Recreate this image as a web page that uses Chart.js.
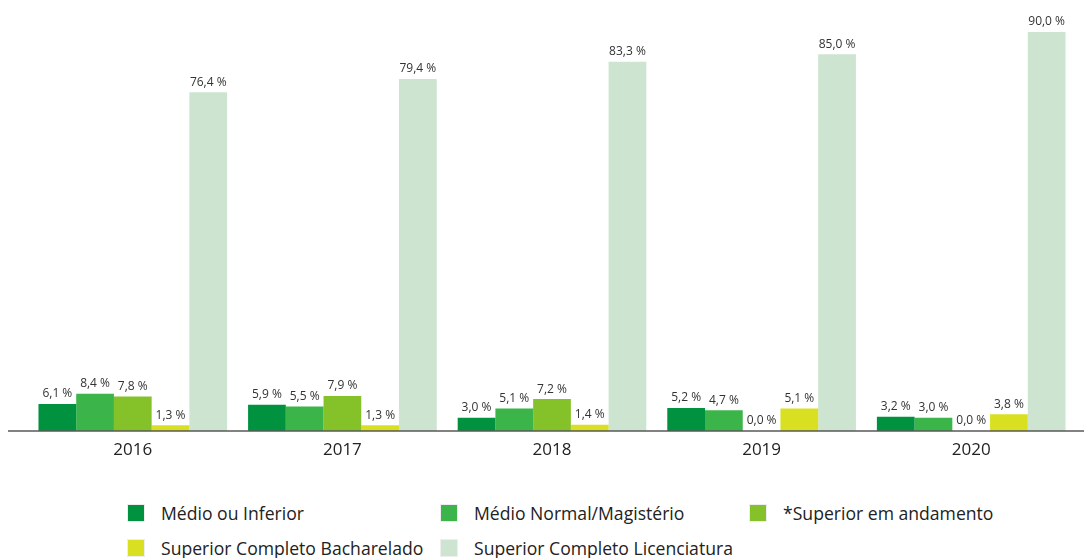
<!DOCTYPE html>
<html>
<head>
<meta charset="utf-8">
<script src="https://cdn.jsdelivr.net/npm/chart.js@4"></script>
<style>
  body { margin: 0; background: #fff; font-family: "Open Sans", sans-serif; }
  #wrap { position: relative; width: 1084px; height: 558px; }
  #graph01 { position: absolute; left: 0; top: 0; }
  .leg { position: absolute; display: flex; align-items: center; font-size: 17.6px; color: #222; white-space: nowrap; }
  .leg span.box { width: 18px; height: 18px; box-sizing: border-box; border: 1px solid #eee; margin-right: 16px; }
</style>
</head>
<body>
<div id="wrap">
  <canvas id="graph01" width="1084" height="470"></canvas>
  <div id="legend"></div>
</div>
<script>
const anos = ['2016', '2017', '2018', '2019', '2020'];
const medioInferior = [6.1, 5.9, 3.0, 5.2, 3.2];
const medioNormal = [8.4, 5.5, 5.1, 4.7, 3.0];
const superiorAndamento = [7.8, 7.9, 7.2, 0.0, 0.0];
const bacharelado = [1.3, 1.3, 1.4, 5.1, 3.8];
const licenciatura = [76.4, 79.4, 83.3, 85.0, 90.0];

const series = [
  { label: 'Médio ou Inferior', data: medioInferior, color: 'rgb(0, 146, 63)' },
  { label: 'Médio Normal/Magistério', data: medioNormal, color: 'rgb(59, 181, 74)' },
  { label: '*Superior em andamento', data: superiorAndamento, color: 'rgb(133, 194, 42)' },
  { label: 'Superior Completo Bacharelado', data: bacharelado, color: 'rgb(217, 224, 33)' },
  { label: 'Superior Completo Licenciatura', data: licenciatura, color: 'rgb(204, 228, 208)' }
];

// rotulos acima das barras
const valueLabels = {
  id: 'valueLabels',
  afterDatasetsDraw(chart) {
    const ctx = chart.ctx;
    ctx.save();
    ctx.font = '12px "Open Sans"';
    ctx.fillStyle = '#333';
    ctx.textAlign = 'center';
    ctx.textBaseline = 'bottom';
    chart.data.datasets.forEach((ds, i) => {
      chart.getDatasetMeta(i).data.forEach((bar, j) => {
        const txt = ds.data[j].toFixed(1).replace('.', ',') + ' %';
        ctx.fillText(txt, bar.x, bar.y - 4);
      });
    });
    ctx.restore();
  }
};

// linha do eixo em toda a largura
const axisLine = {
  id: 'axisLine',
  afterDraw(chart) {
    const ctx = chart.ctx;
    const y = chart.scales.y.getPixelForValue(0);
    ctx.save();
    ctx.strokeStyle = '#595959';
    ctx.lineWidth = 1.5;
    ctx.beginPath();
    ctx.moveTo(8, y);
    ctx.lineTo(chart.width, y);
    ctx.stroke();
    ctx.restore();
  }
};

const bar01 = document.getElementById('graph01');

new Chart(bar01, {
  type: 'bar',
  data: {
    labels: anos,
    datasets: series.map(s => ({
      label: s.label,
      data: s.data,
      backgroundColor: s.color,
      categoryPercentage: 0.9,
      barPercentage: 1.0
    }))
  },
  options: {
    responsive: false,
    animation: false,
    layout: { padding: { top: 32, left: 28, right: 8, bottom: 0 } },
    plugins: {
      legend: { display: false },
      tooltip: { enabled: false }
    },
    scales: {
      x: {
        grid: { display: false, drawTicks: false },
        border: { display: false },
        ticks: { color: '#222', font: { family: 'Open Sans', size: 17 }, padding: 9 },
        afterFit(scale) { scale.height = 39; }
      },
      y: {
        display: false,
        min: 0,
        max: 90
      }
    }
  },
  plugins: [valueLabels, axisLine]
});

const legendPos = [
  [127, 513], [440, 513], [749, 513],
  [127, 548], [440, 548]
];
const legendBox = document.getElementById('legend');
series.forEach((s, i) => {
  const item = document.createElement('div');
  item.className = 'leg';
  item.style.left = legendPos[i][0] + 'px';
  item.style.top = (legendPos[i][1] - 12) + 'px';
  item.style.height = '24px';
  const box = document.createElement('span');
  box.className = 'box';
  box.style.background = s.color;
  item.appendChild(box);
  item.appendChild(document.createTextNode(s.label));
  legendBox.appendChild(item);
});
</script>
</body>
</html>
